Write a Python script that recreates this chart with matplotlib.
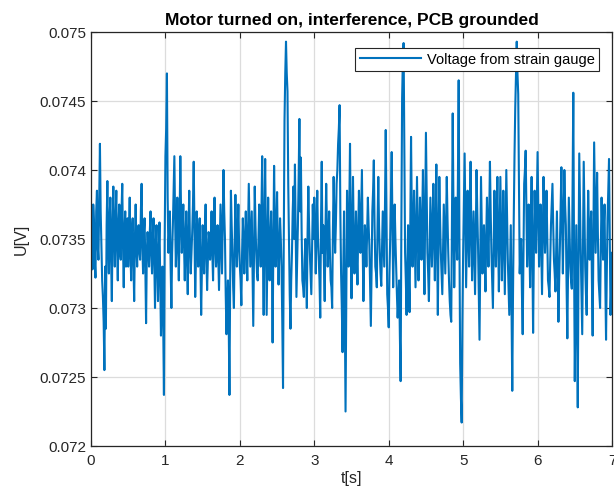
import numpy as np
import matplotlib
matplotlib.use("Agg")
import matplotlib.pyplot as plt
from matplotlib.ticker import FuncFormatter

# Voltage readings in mV.
# Main samples every 0.02 s from 0 to 7 s
seg0 = [73.60, 73.28, 73.62, 73.22, 73.85, 73.35, 74.19, 73.45, 73.08, 72.55, 72.85, 73.92, 73.25, 73.80, 73.05, 73.88, 73.30, 73.85, 73.20, 73.75, 73.35, 73.90, 73.15, 73.70, 73.40]
seg1 = [73.30, 73.80, 73.20, 73.65, 73.05, 73.75, 73.30, 73.60, 73.35, 73.90, 73.25, 73.65, 72.89, 73.55, 73.30, 73.70, 73.25, 73.65, 73.00, 73.60, 73.05, 73.62, 72.80, 73.30, 72.37]
seg2 = [74.10, 74.70, 73.40, 73.70, 73.00, 73.60, 74.10, 73.30, 73.80, 73.20, 74.10, 73.40, 73.75, 73.20, 73.70, 73.10, 73.85, 73.25, 73.55, 74.06, 73.08, 73.70, 73.30, 73.65, 72.95]
seg3 = [73.60, 73.25, 73.75, 73.13, 73.55, 73.35, 73.70, 73.20, 73.80, 73.30, 73.60, 73.13, 73.75, 73.25, 74.00, 73.50, 72.81, 73.20, 72.37, 73.85, 73.40, 73.00, 73.82, 73.30, 73.75]
seg4 = [73.30, 73.02, 73.65, 73.25, 73.70, 73.20, 73.90, 73.30, 73.70, 72.87, 73.88, 73.40, 73.20, 73.75, 73.30, 74.10, 72.95, 74.08, 72.95, 73.80, 73.20, 73.70, 72.75, 74.03, 73.30]
seg5 = [73.84, 73.17, 73.65, 73.30, 72.42, 74.36, 74.93, 74.57, 73.52, 72.85, 73.40, 73.88, 74.04, 73.08, 73.60, 74.37, 74.09, 73.20, 73.08, 73.50, 73.00, 73.88, 73.40, 73.10, 73.75]
seg6 = [73.80, 73.25, 73.85, 73.35, 72.93, 74.06, 73.60, 73.05, 73.90, 73.30, 73.70, 73.20, 73.00, 73.95, 73.40, 73.90, 74.19, 74.47, 73.25, 72.68, 73.70, 72.25, 73.85, 73.30, 74.19]
seg7 = [73.07, 73.95, 73.25, 73.70, 73.17, 73.85, 73.40, 74.00, 73.05, 73.60, 73.30, 73.80, 73.45, 72.87, 73.70, 74.07, 73.30, 73.15, 73.95, 73.40, 73.16, 73.70, 73.30, 74.29, 73.10]
seg8 = [72.86, 73.50, 74.13, 73.15, 73.75, 73.30, 72.93, 73.20, 72.47, 74.52, 74.92, 73.40, 72.95, 73.60, 72.97, 74.24, 73.30, 73.85, 73.15, 73.95, 73.20, 73.80, 73.35, 74.00, 73.10]
seg9 = [74.27, 73.40, 73.05, 73.80, 73.30, 73.90, 73.20, 74.04, 72.95, 73.95, 73.40, 73.10, 73.75, 73.25, 73.95, 73.40, 73.05, 72.90, 74.41, 73.15, 73.80, 73.35, 74.65, 72.60, 72.17]
seg10 = [73.40, 74.12, 73.15, 73.85, 73.30, 74.06, 73.20, 73.70, 73.10, 74.00, 73.45, 72.77, 73.95, 73.25, 73.60, 73.12, 73.80, 73.30, 74.06, 73.40, 73.00, 73.85, 73.30, 73.95, 73.12]
seg11 = [73.95, 73.20, 73.85, 73.10, 74.00, 73.35, 72.95, 73.60, 72.40, 73.65, 74.45, 74.93, 74.55, 73.25, 73.50, 72.81, 73.90, 74.14, 73.30, 73.75, 73.15, 73.95, 72.82, 73.85, 73.40]
seg12 = [74.13, 73.30, 73.75, 73.10, 73.95, 73.40, 73.85, 73.20, 73.08, 73.60, 73.90, 73.35, 73.12, 73.70, 72.90, 73.45, 74.02, 73.25, 74.00, 73.60, 72.78, 73.80, 73.30, 73.14, 74.56]
seg13 = [72.47, 73.60, 72.28, 74.12, 73.40, 72.81, 74.06, 73.30, 72.95, 73.85, 73.35, 73.70, 72.80, 74.20, 73.40, 73.98, 73.20, 73.00, 73.80, 73.35, 73.75, 72.77, 73.65, 74.08, 72.95, 73.40]

# In-between samples (at 0.01 s offsets), also
mid0 = [73.40, 73.75, 73.35, 73.70, 73.45, 73.80, 73.70, 73.20, 72.90, 73.30, 73.60, 73.45, 73.65, 73.35, 73.60, 73.50, 73.65, 73.45, 73.60, 73.40, 73.70, 73.45, 73.55, 73.30, 73.65]
mid1 = [73.55, 73.40, 73.55, 73.35, 73.50, 73.45, 73.55, 73.40, 73.70, 73.45, 73.55, 73.30, 73.40, 73.45, 73.55, 73.40, 73.50, 73.35, 73.45, 73.30, 73.40, 73.20, 73.10, 72.90, 73.50]
mid2 = [74.30, 73.80, 73.55, 73.30, 73.40, 73.85, 73.65, 73.55, 73.45, 73.60, 73.70, 73.55, 73.45, 73.50, 73.35, 73.55, 73.45, 73.40, 73.75, 73.60, 73.35, 73.55, 73.45, 73.35, 73.30]
mid3 = [73.40, 73.55, 73.40, 73.35, 73.50, 73.45, 73.40, 73.55, 73.45, 73.40, 73.35, 73.45, 73.50, 73.60, 73.70, 73.10, 73.00, 72.90, 73.20, 73.60, 73.15, 73.45, 73.50, 73.55, 73.45]
mid4 = [73.20, 73.40, 73.45, 73.50, 73.40, 73.55, 73.60, 73.50, 73.30, 73.40, 73.60, 73.25, 73.50, 73.55, 73.70, 73.40, 73.60, 73.50, 73.35, 73.45, 73.50, 73.35, 73.45, 73.60, 73.55]
mid5 = [73.45, 73.40, 73.50, 72.90, 73.50, 74.70, 74.70, 73.90, 73.10, 73.20, 73.70, 73.50, 73.55, 73.35, 73.95, 73.70, 73.55, 73.15, 73.35, 73.30, 73.55, 73.60, 73.25, 73.45, 73.50]
mid6 = [73.55, 73.60, 73.50, 73.20, 73.60, 73.40, 73.30, 73.55, 73.60, 73.45, 73.40, 73.15, 73.55, 73.65, 73.60, 74.00, 74.30, 73.70, 73.00, 73.30, 73.00, 73.10, 73.55, 73.70, 73.55]
mid7 = [73.55, 73.50, 73.45, 73.40, 73.55, 73.60, 73.70, 73.45, 73.35, 73.50, 73.55, 73.60, 73.15, 73.30, 73.85, 73.60, 73.25, 73.60, 73.60, 73.25, 73.45, 73.50, 73.75, 73.65, 73.00]
mid8 = [73.25, 73.80, 73.60, 73.45, 73.50, 73.10, 73.05, 72.80, 73.60, 74.80, 74.10, 73.20, 73.30, 73.25, 73.60, 73.70, 73.55, 73.50, 73.55, 73.60, 73.45, 73.55, 73.65, 73.50, 73.70]
mid9 = [73.80, 73.25, 73.45, 73.55, 73.60, 73.50, 73.65, 73.45, 73.50, 73.65, 73.25, 73.45, 73.50, 73.60, 73.65, 73.20, 72.95, 73.70, 73.70, 73.50, 73.55, 73.95, 73.50, 72.35, 72.90]
mid10 = [73.75, 73.60, 73.50, 73.55, 73.65, 73.55, 73.45, 73.40, 73.55, 73.70, 73.10, 73.40, 73.60, 73.40, 73.35, 73.50, 73.55, 73.65, 73.70, 73.20, 73.45, 73.55, 73.65, 73.50, 73.55]
mid11 = [73.55, 73.50, 73.45, 73.55, 73.65, 73.15, 73.30, 73.00, 73.10, 74.10, 74.70, 74.70, 73.90, 73.40, 73.10, 73.35, 74.00, 73.70, 73.55, 73.45, 73.60, 73.35, 73.40, 73.60, 73.75]
mid12 = [73.70, 73.55, 73.40, 73.50, 73.65, 73.60, 73.50, 73.15, 73.35, 73.75, 73.60, 73.25, 73.40, 73.30, 73.20, 73.75, 73.60, 73.65, 73.75, 73.15, 73.30, 73.55, 73.20, 73.85, 73.40]
mid13 = [73.05, 72.95, 73.30, 73.75, 73.10, 73.45, 73.65, 73.10, 73.45, 73.60, 73.55, 73.20, 73.55, 73.80, 73.70, 73.55, 73.10, 73.45, 73.55, 73.60, 73.20, 73.25, 73.85, 73.50, 73.15]

t_start, t_end = 0.0, 7.0
x_ticks = [0, 1, 2, 3, 4, 5, 6, 7]
y_ticks = [0.072, 0.0725, 0.073, 0.0735, 0.074, 0.0745, 0.075]
title = "Motor turned on, interference, PCB grounded"
legend_label = "Voltage from strain gauge"

main_mv = (seg0 + seg1 + seg2 + seg3 + seg4 + seg5 + seg6 + seg7
           + seg8 + seg9 + seg10 + seg11 + seg12 + seg13)
mid_mv = (mid0 + mid1 + mid2 + mid3 + mid4 + mid5 + mid6 + mid7
          + mid8 + mid9 + mid10 + mid11 + mid12 + mid13)

# interleave main and in-between samples
voltage = np.empty(len(main_mv) + len(mid_mv))
voltage[0::2] = main_mv
voltage[1::2] = mid_mv
voltage = voltage / 1000.0
t = np.linspace(t_start, t_end, len(voltage))

plt.rcParams['font.family'] = ['Liberation Sans', 'DejaVu Sans']

fig = plt.figure(figsize=(6.14, 4.98), dpi=100)
ax = fig.add_axes([91/614, 52/498, 521/614, 414/498])

ax.plot(t, voltage, color='#0072BD', linewidth=1.5, label=legend_label)

ax.set_xlim(0, 7)
ax.set_ylim(0.072, 0.075)
ax.set_xticks(x_ticks)
ax.set_yticks(y_ticks)
ax.yaxis.set_major_formatter(FuncFormatter(lambda v, p: f"{v:g}"))

ax.grid(True, color='#dcdcdc', linewidth=0.9)
ax.set_axisbelow(True)
ax.tick_params(direction='in', top=True, right=True, length=4,
               labelsize=11, colors='#262626', width=0.8)
ax.tick_params(axis='x', pad=6)
for s in ax.spines.values():
    s.set_color('#262626')
    s.set_linewidth(0.9)

ax.set_title(title, fontsize=12.5, fontweight='bold', color='black', pad=5)
ax.set_xlabel("t[s]", fontsize=11.5, color='#262626', labelpad=2)
ax.set_ylabel("U[V]", fontsize=11.5, color='#262626', labelpad=8)

leg = ax.legend(loc='upper right', bbox_to_anchor=(0.975, 0.961),
                fontsize=10.5, frameon=True, fancybox=False,
                borderpad=0.3, handlelength=4.2, handletextpad=0.4,
                borderaxespad=0.0, framealpha=1)
leg.get_frame().set_edgecolor('#262626')
leg.get_frame().set_linewidth(0.8)

fig.savefig("out.png", dpi=100)
